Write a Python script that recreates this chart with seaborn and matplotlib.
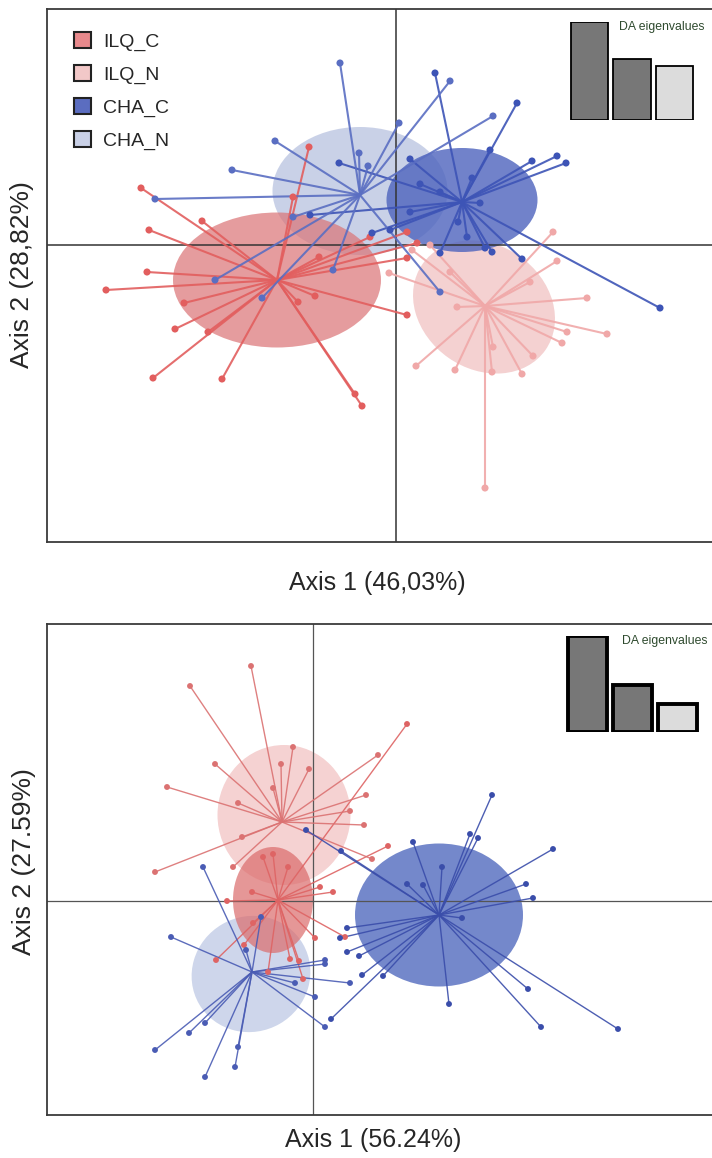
import numpy as np
import pandas as pd
import matplotlib
matplotlib.use("Agg")
import matplotlib.pyplot as plt
import seaborn as sns
from matplotlib.patches import Ellipse, Patch

# ---------------- dados (unidades dos eixos discriminantes) ----------------
grupos = ["ILQ_C", "ILQ_N", "CHA_C", "CHA_N"]

# painel superior
sup_ilqc_x = [-1.74, -2.06, -5.10, -3.88, -4.94, -4.98, -5.80, -4.24, -4.42, -3.76, -4.86,
              -3.48, -0.82, -0.68, -1.96, -1.62, -1.54, 0.22, 0.22, -0.52, 0.22, 0.42]
sup_ilqc_y = [1.96, 0.96, 1.14, 0.48, 0.30, -0.54, -0.90, -1.16, -1.68, -1.74, -2.66,
              -2.68, -2.98, -3.22, -1.14, -1.02, -0.24, -1.40, -0.26, 0.16, 0.26, 0.04]
sup_ilqn_x = [3.14, 3.22, 3.82, 4.22, 3.42, 3.32, 2.74, 2.52, 1.92, 1.94, 1.18, 0.40,
              1.22, 1.78, -0.14, 1.08, 0.68, 0.32, 2.68]
sup_ilqn_y = [0.26, -0.32, -1.06, -1.78, -1.74, -1.96, -2.22, -2.58, -2.54, -2.04, -2.50,
              -2.42, -1.24, -4.86, -0.56, -0.54, 0.00, -0.10, -0.74]
sup_chac_x = [0.78, 2.42, 1.88, 2.72, 3.22, 3.40, 1.52, 0.48, 0.88, 1.68, 0.28, 1.24,
              1.42, 0.88, 1.78, 1.92, 2.52, 5.28, -1.14, 0.28, -1.72, -0.48, -0.12]
sup_chac_y = [3.44, 2.84, 1.90, 1.68, 1.78, 1.64, 1.34, 1.22, 1.06, 0.84, 0.66, 0.46,
              0.16, -0.16, -0.06, -0.14, -0.28, -1.26, 1.64, 1.72, 0.60, 0.24, 0.30]
sup_chan_x = [-1.12, 1.08, 0.06, 1.94, -2.42, -0.74, -0.56, -3.28, -4.82, -2.06, -3.62,
              -2.68, -1.26, 0.88]
sup_chan_y = [3.64, 3.28, 2.44, 2.58, 2.08, 1.84, 1.58, 1.50, 0.92, 0.56, -0.70,
              -1.06, -0.50, -0.94]
sup_centro_x = [-2.38, 1.78, 1.32, -0.72]
sup_centro_y = [-0.70, -1.22, 0.86, 1.00]
sup_elipse = [(-2.38, -0.70, 4.16, 2.70, 0), (1.76, -1.24, 3.0, 2.48, -35),
              (1.32, 0.90, 3.02, 2.08, 0), (-0.72, 1.08, 3.5, 2.56, 0)]
sup_autoval = [46.03, 28.82, 25.15]

# painel inferior
inf_ilqc_x = [-1.00, -0.80, -0.50, -1.22, -1.72, 0.14, 0.40, -1.20, -1.38, -1.94, -0.46,
              -0.28, -0.20, -0.90, 0.04, 1.50, 1.88, 0.64]
inf_ilqc_y = [0.88, 0.94, 0.68, 0.18, 0.00, 0.28, 0.18, -0.44, -0.88, -1.18, -1.16,
              -1.20, -1.56, -1.42, -0.74, 1.10, 3.54, -0.72]
inf_ilqn_x = [-1.24, -2.46, -0.40, -0.64, -0.08, -1.96, -2.92, -0.80, -1.50, -1.42, -3.16,
              1.06, 0.74, 1.02, 1.30, 1.18, -1.60]
inf_ilqn_y = [4.70, 4.30, 3.08, 2.74, 2.64, 2.74, 2.28, 2.26, 1.96, 1.28, 0.58,
              2.12, 1.80, 1.52, 2.92, 0.84, 0.68]
inf_chac_x = [3.58, 3.14, 3.30, 2.00, 4.80, 2.58, 1.88, 2.20, 4.26, 4.40, 2.98, -0.14,
              0.56, 0.68, 0.54, 0.68, 0.92, 0.98, 1.40, 0.36, 2.72, 4.30, 4.56, 6.10]
inf_chac_y = [2.12, 1.34, 1.26, 1.18, 1.04, 0.68, 0.34, 0.32, 0.34, 0.06, -0.34, 1.42,
              1.00, -0.54, -0.74, -1.02, -1.10, -1.48, -1.50, -2.36, -2.06, -1.76, -2.52, -2.56]
inf_chan_x = [-2.84, -2.20, -3.16, -2.48, -2.16, -2.16, -1.56, -1.50, -1.34, -1.04, -0.36,
              0.04, 0.24, 0.24, 0.74, 0.24]
inf_chan_y = [-0.72, 0.68, -2.98, -2.64, -2.44, -3.52, -3.32, -2.92, -0.98, -0.32, -1.64,
              -1.92, -1.18, -1.26, -1.64, -2.52]
inf_centro_x = [-0.70, -0.62, 2.52, -1.22]
inf_centro_y = [0.02, 1.58, -0.28, -1.42]
inf_elipse = [(-0.80, 0.02, 1.60, 2.12, 0), (-0.58, 1.72, 2.66, 2.80, 0),
              (2.52, -0.28, 3.36, 2.86, 0), (-1.24, -1.46, 2.40, 2.30, 30)]
inf_autoval = [56.24, 27.59, 16.17]


def montar(xs, ys):
    partes = []
    for g, x, y in zip(grupos, xs, ys):
        partes.append(pd.DataFrame({"grupo": g, "x": x, "y": y}))
    return pd.concat(partes, ignore_index=True)


df_sup = montar([sup_ilqc_x, sup_ilqn_x, sup_chac_x, sup_chan_x],
                [sup_ilqc_y, sup_ilqn_y, sup_chac_y, sup_chan_y])
df_inf = montar([inf_ilqc_x, inf_ilqn_x, inf_chac_x, inf_chan_x],
                [inf_ilqc_y, inf_ilqn_y, inf_chac_y, inf_chan_y])

# ---------------- estilo ----------------
sns.set_style("white")
plt.rcParams["font.family"] = ["Liberation Sans", "DejaVu Sans"]

cor_legenda = {"ILQ_C": "#E8898C", "ILQ_N": "#F2C8C8", "CHA_C": "#5B6DC0", "CHA_N": "#C9D0E6"}

sup_ponto = {"ILQ_C": "#E25E5E", "ILQ_N": "#F0A8A8", "CHA_C": "#3D54B6", "CHA_N": "#5A6EC2"}
sup_elip_cor = {"ILQ_C": (0.86, 0.45, 0.46, 0.70), "ILQ_N": (0.93, 0.70, 0.70, 0.60),
                "CHA_C": (0.30, 0.39, 0.74, 0.80), "CHA_N": (0.72, 0.76, 0.88, 0.75)}
sup_ordem = {"CHA_N": 1.0, "ILQ_C": 1.1, "ILQ_N": 1.2, "CHA_C": 1.3}

inf_ponto = {"ILQ_C": "#DE6464", "ILQ_N": "#DB7272", "CHA_C": "#3A4DAA", "CHA_N": "#4A5CB4"}
inf_elip_cor = {"ILQ_C": (0.86, 0.42, 0.42, 0.70), "ILQ_N": (0.93, 0.68, 0.68, 0.55),
                "CHA_C": (0.36, 0.45, 0.76, 0.85), "CHA_N": (0.76, 0.80, 0.90, 0.80)}
inf_ordem = {"CHA_N": 1.0, "ILQ_N": 1.1, "ILQ_C": 1.2, "CHA_C": 1.3}

fig = plt.figure(figsize=(7.12, 11.58), dpi=100)
W, H = 712.0, 1158.0


def eixo_px(esq, topo, dir_, base):
    return fig.add_axes([esq / W, 1 - base / H, (dir_ - esq) / W, (base - topo) / H])


def painel(ax, df, cx, cy, elipses, cores_p, cores_e, ordem, lw, tam, xlim, ylim, cruz_cor, cruz_lw):
    for g, (ex, ey, ew, eh, ang) in zip(grupos, elipses):
        ax.add_patch(Ellipse((ex, ey), ew, eh, angle=ang, facecolor=cores_e[g],
                             edgecolor="none", zorder=ordem[g]))
    for g, gx, gy in zip(grupos, cx, cy):
        sub = df[df["grupo"] == g]
        for _, r in sub.iterrows():
            ax.plot([gx, r["x"]], [gy, r["y"]], color=cores_p[g], lw=lw, alpha=0.9,
                    zorder=2, solid_capstyle="round")
    sns.scatterplot(data=df, x="x", y="y", hue="grupo", palette=cores_p, s=tam,
                    edgecolor="none", legend=False, ax=ax, zorder=3)
    ax.axhline(0, color=cruz_cor, lw=cruz_lw, zorder=1.5)
    ax.axvline(0, color=cruz_cor, lw=cruz_lw, zorder=1.5)
    ax.set_xlim(*xlim)
    ax.set_ylim(*ylim)
    ax.set_xticks([])
    ax.set_yticks([])
    ax.set_xlabel("")
    ax.set_ylabel("")
    for s in ax.spines.values():
        s.set_color("#3a3a3a")
        s.set_linewidth(1.3)


def autovalores(ax, caixa, vals, lw_borda, txt_xy):
    ins = ax.inset_axes(caixa)
    dfv = pd.DataFrame({"eixo": ["1", "2", "3"], "val": vals})
    sns.barplot(data=dfv, x="eixo", y="val", hue="eixo",
                palette=["#777777", "#777777", "#DCDCDC"], width=0.88,
                edgecolor="black", linewidth=lw_borda, legend=False, ax=ins)
    ins.set_xlim(-0.5, 2.5)
    ins.set_ylim(0, max(vals))
    ins.axis("off")
    ax.text(txt_xy[0], txt_xy[1], "DA eigenvalues", transform=ax.transAxes,
            fontsize=8.8, color="#2E4A2E", ha="left", va="center",
            family=["Liberation Sans Narrow", "Liberation Sans", "DejaVu Sans"])


# ---------------- painel superior ----------------
ax1 = eixo_px(47, 9, 715, 542)
painel(ax1, df_sup, sup_centro_x, sup_centro_y, sup_elipse, sup_ponto, sup_elip_cor, sup_ordem,
       1.5, 26, ((47 - 396) / 50, (715 - 396) / 50), ((245 - 542) / 50, (245 - 9) / 50),
       "#333333", 1.1)
autovalores(ax1, [(568 - 47) / 668, (542 - 120) / 533, 128 / 668, 98 / 533], sup_autoval, 1.3,
            ((619 - 47) / 668, (542 - 27) / 533))

handles = [Patch(facecolor=cor_legenda[g], edgecolor="#222222", linewidth=1.5, label=g)
           for g in grupos]
ax1.legend(handles=handles, loc="upper left", bbox_to_anchor=((74 - 47) / 668, (542 - 32) / 533),
           frameon=False, fontsize=14, handlelength=0.85, handleheight=0.85,
           handletextpad=0.65, labelspacing=0.74, borderpad=0, borderaxespad=0)

fig.text(22 / W, 1 - 275 / H, "Axis 2 (28,82%)", rotation=90, ha="center", va="center",
         fontsize=19)
fig.text(377 / W, 1 - 583 / H, "Axis 1 (46,03%)", ha="center", va="center", fontsize=18)

# ---------------- painel inferior ----------------
ax2 = eixo_px(47, 624, 715, 1115)
painel(ax2, df_inf, inf_centro_x, inf_centro_y, inf_elipse, inf_ponto, inf_elip_cor, inf_ordem,
       1.0, 18, ((47 - 313) / 50, (715 - 313) / 50), ((901 - 1115) / 50, (901 - 624) / 50),
       "#555555", 0.9)
autovalores(ax2, [(565 - 47) / 668, (1115 - 732) / 491, 135 / 668, 96 / 491], inf_autoval, 2.8,
            ((622 - 47) / 668, (1115 - 641) / 491))

fig.text(24 / W, 1 - 862 / H, "Axis 2 (27.59%)", rotation=90, ha="center", va="center",
         fontsize=19)
fig.text(373 / W, 1 - 1140 / H, "Axis 1 (56.24%)", ha="center", va="center", fontsize=18)

fig.savefig("out.png", dpi=100)
